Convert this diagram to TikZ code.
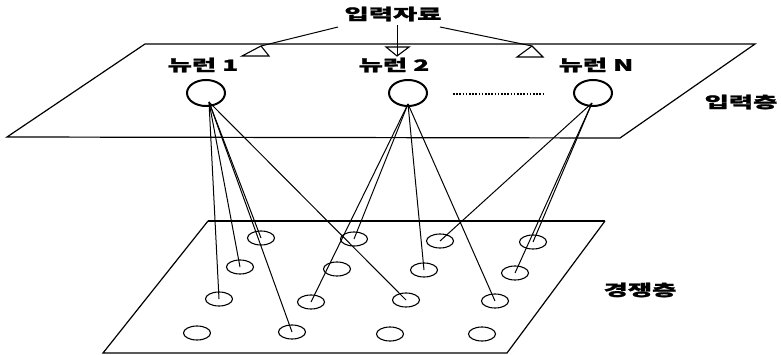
\documentclass[tikz,border=0pt]{standalone}
\usepackage{fontspec}
\usetikzlibrary{shapes.geometric}
\newfontfamily\kr{Noto Sans CJK KR}[FakeStretch=1.7, FakeBold=1.2]
\begin{document}
\begin{tikzpicture}[x=1pt,y=-1pt,
  lbl/.style={font=\kr\bfseries\fontsize{15.5}{15.5}\selectfont, inner sep=0pt},
  neuron/.style={ellipse, draw, line width=2pt, minimum width=38pt, minimum height=26pt, inner sep=0pt},
  unit/.style={ellipse, draw, line width=1.1pt, minimum width=27pt, minimum height=14pt, inner sep=0pt},
  wire/.style={line width=1pt},
  plane/.style={line width=1.2pt},
  tri/.style={draw, line width=1.1pt}]
\useasboundingbox (0,0) rectangle (781,355);
% planes
\draw[plane] (145,44) -- (755,44) -- (620,138) -- (7,137) -- cycle;
\draw[plane] (605,221) -- (507,353) -- (103,353) -- (208,221);
\draw[line width=2pt] (208,221) -- (605,221);
% labels
\node[lbl] (in) at (393,14) {입력자료};
\node[lbl] (l1) at (203,65) {뉴런 1};
\node[lbl] (l2) at (394,65) {뉴런 2};
\node[lbl] (lN) at (596,65) {뉴런 N};
\node[lbl] (inl) at (741,102) {입력층};
\node[lbl] (cl) at (640,290) {경쟁층};
% input arrows
\coordinate (s1) at (338,27);
\coordinate (s2) at (397,25);
\coordinate (s3) at (440,27);
\coordinate (t1) at (261,46);
\coordinate (t2) at (397,56);
\coordinate (t3) at (532,46);
\draw[wire] (s1) -- (t1);
\draw[wire] (s2) -- (t2);
\draw[wire] (s3) -- (t3);
\draw[tri] (t1) -- (269,56) -- (242,56) -- cycle;
\draw[tri] (386,47) -- (409,47) -- (t2) -- cycle;
\draw[tri] (t3) -- (543,57) -- (517,57) -- cycle;
% neurons
\node[neuron] (n1) at (206,93) {};
\node[neuron] (n2) at (408,93) {};
\node[neuron] (nN) at (593,93) {};
\coordinate (d1) at (453,94);
\coordinate (d2) at (543,94);
\draw[line width=1.6pt, dash pattern=on 1.6pt off 1.6pt] (d1) -- (d2);
% competitive units
\foreach \n/\x/\y in {11/261/238, 12/354/239, 13/440/241, 14/533/242,
                      21/240/267, 22/337/269, 23/424/270, 24/515/273,
                      31/219/299, 32/311/302, 33/406/300, 34/495/301,
                      41/197/333, 42/292/332, 43/390/334, 44/482/334}
  \node[unit] (c\n) at (\x,\y) {};
% connections
\coordinate (o1) at (209,102);
\coordinate (o2) at (408,104);
\coordinate (oN) at (592,103);
\foreach \t in {31,21,11,42,33} \draw[wire] (o1) -- (c\t.center);
\foreach \t in {12,32,23,34} \draw[wire] (o2) -- (c\t.center);
\foreach \t in {13,14,24} \draw[wire] (oN) -- (c\t.center);
\end{tikzpicture}
\end{document}
